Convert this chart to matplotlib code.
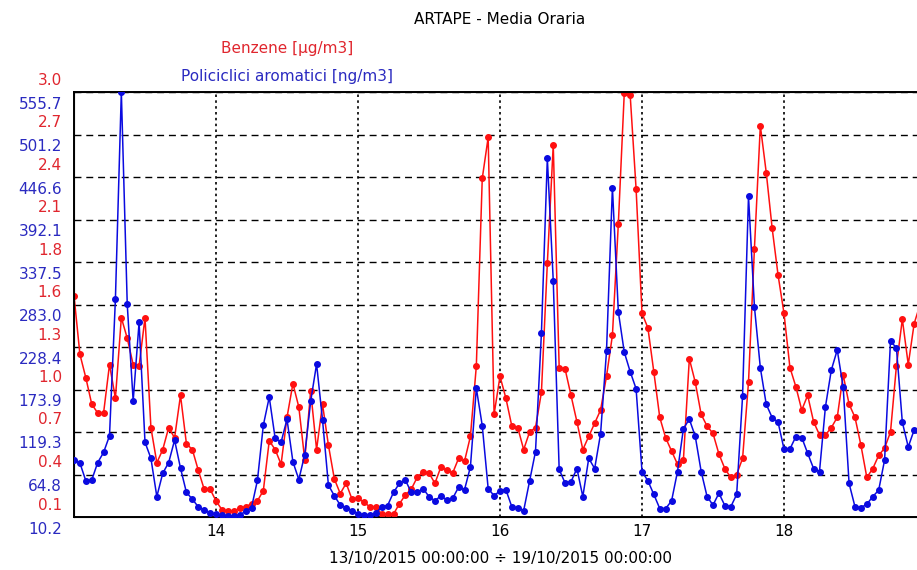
import matplotlib
matplotlib.use("Agg")
import matplotlib.pyplot as plt
import numpy as np
import pandas as pd

# media oraria 13/10/2015 00:00 -> 18/10/2015 23:00
ore = pd.date_range("2015-10-13 00:00", periods=144, freq="h")

benzene = [
    1.61, 1.21, 1.05, 0.87, 0.81, 0.81, 1.14, 0.91, 1.46, 1.32, 1.14, 1.13,
    1.46, 0.71, 0.47, 0.56, 0.71, 0.64, 0.93, 0.60, 0.56, 0.42, 0.29, 0.29,
    0.21, 0.15, 0.14, 0.14, 0.16, 0.17, 0.19, 0.21, 0.28, 0.62, 0.56, 0.46,
    0.78, 1.01, 0.85, 0.49, 0.96, 0.56, 0.87, 0.59, 0.36, 0.26, 0.33, 0.22,
    0.23, 0.20, 0.17, 0.17, 0.12, 0.12, 0.12, 0.19, 0.25, 0.29, 0.37, 0.41,
    0.40, 0.33, 0.44, 0.42, 0.40, 0.50, 0.48, 0.65, 1.13, 2.41, 2.69, 0.80,
    1.06, 0.91, 0.72, 0.71, 0.56, 0.68, 0.71, 0.95, 1.83, 2.64, 1.12, 1.11,
    0.93, 0.75, 0.56, 0.65, 0.74, 0.83, 1.06, 1.34, 2.10, 2.99, 2.98, 2.34,
    1.49, 1.39, 1.09, 0.78, 0.64, 0.55, 0.46, 0.49, 1.18, 1.02, 0.80, 0.72,
    0.67, 0.53, 0.43, 0.37, 0.39, 0.50, 1.02, 1.93, 2.77, 2.45, 2.07, 1.75,
    1.49, 1.12, 0.99, 0.83, 0.93, 0.75, 0.66, 0.66, 0.71, 0.78, 1.07, 0.87,
    0.78, 0.59, 0.37, 0.43, 0.52, 0.57, 0.68, 1.13, 1.45, 1.14, 1.42, 1.55,
]

ipa = [
    83.3, 79.5, 56.6, 57.7, 80.0, 93.1, 114.4, 290.0, 555.7, 283.0, 159.1, 260.0,
    106.2, 85.5, 36.4, 66.4, 80.0, 108.9, 72.9, 41.8, 33.1, 23.3, 18.9, 15.7,
    13.5, 12.9, 11.8, 11.8, 12.9, 17.3, 22.2, 57.1, 128.0, 164.0, 111.1, 106.2,
    135.7, 81.1, 58.2, 90.4, 158.6, 206.6, 135.1, 51.1, 37.5, 25.5, 22.2, 18.4,
    14.6, 12.9, 12.9, 15.1, 23.3, 24.9, 41.8, 53.3, 57.7, 41.8, 41.8, 46.7,
    36.4, 30.9, 37.5, 32.0, 34.2, 48.4, 45.1, 74.6, 175.5, 127.5, 46.7, 37.5,
    44.0, 45.1, 23.3, 21.7, 18.4, 56.6, 94.2, 245.9, 470.6, 313.5, 71.3, 53.8,
    55.5, 72.4, 36.4, 85.5, 72.4, 117.1, 222.9, 433.0, 273.7, 221.9, 196.8, 174.9,
    68.6, 56.6, 39.1, 21.1, 21.1, 30.9, 68.6, 123.7, 135.7, 113.8, 68.6, 36.4,
    25.5, 40.7, 24.9, 23.3, 39.1, 165.7, 422.0, 280.2, 201.7, 154.8, 137.8, 131.8,
    97.5, 97.5, 113.3, 112.2, 92.0, 72.4, 68.6, 151.5, 198.9, 224.6, 177.1, 53.3,
    23.3, 22.2, 26.6, 36.4, 44.6, 83.3, 236.0, 227.3, 131.8, 100.2, 122.0, 113.8,
]

benzene_lim = (0.1, 3.0)
ipa_lim = (10.2, 555.7)
etichette_benzene = ["0.1", "0.4", "0.7", "1.0", "1.3", "1.6",
                     "1.8", "2.1", "2.4", "2.7", "3.0"]
etichette_ipa = ["10.2", "64.8", "119.3", "173.9", "228.4", "283.0",
                 "337.5", "392.1", "446.6", "501.2", "555.7"]
giorni = pd.date_range("2015-10-14", periods=5, freq="D")

ROSSO = "#ff1010"
BLU = "#0a0ae0"
ROSSO_TXT = "#e0262e"
BLU_TXT = "#2a2ac0"

plt.rcParams["font.family"] = ["DejaVu Sans"]

fig = plt.figure(figsize=(9.17, 5.70), dpi=100)
# asse largo fino al 19/10, il bordo destro esce dall'immagine
ax = fig.add_axes([74 / 917, 53 / 570, 852 / 917, 425 / 570])
ax.set_xlim(pd.Timestamp("2015-10-13"), pd.Timestamp("2015-10-19"))
ax.set_ylim(*benzene_lim)

livelli_b = np.linspace(benzene_lim[0], benzene_lim[1], 11)
livelli_i = np.linspace(ipa_lim[0], ipa_lim[1], 11)

ax.set_yticks(livelli_b)
ax.set_xticks(giorni)
ax.set_xticklabels([d.strftime("%d").lstrip("0") for d in giorni])
ax.tick_params(axis="y", length=0, labelleft=False)
ax.tick_params(axis="x", length=0, labelsize=11, pad=5)
ax.yaxis.grid(True, linestyle=(0, (5, 3.5)), color="black", linewidth=1)
ax.xaxis.grid(True, linestyle=(0, (1.5, 2)), color="black", linewidth=1.2)
for s in ax.spines.values():
    s.set_linewidth(1.4)

ax.plot(ore, benzene, color=ROSSO, linewidth=1.1, marker="o",
        markersize=4, zorder=3)

ax2 = ax.twinx()
ax2.set_ylim(*ipa_lim)
ax2.set_yticks([])
ax2.plot(ore, ipa, color=BLU, linewidth=1.1, marker="o",
         markersize=4, zorder=3)

# etichette asse y: benzene sopra la griglia, IPA sotto
for v, t in zip(livelli_b, etichette_benzene):
    ax.annotate(t, xy=(0, v), xycoords=("axes fraction", "data"),
                xytext=(-12, 12), textcoords="offset pixels",
                ha="right", va="center", fontsize=11, color=ROSSO_TXT,
                annotation_clip=False)
for v, t in zip(livelli_i, etichette_ipa):
    ax2.annotate(t, xy=(0, v), xycoords=("axes fraction", "data"),
                 xytext=(-12, -12), textcoords="offset pixels",
                 ha="right", va="center", fontsize=11, color=BLU_TXT,
                 annotation_clip=False)

fig.text(500 / 917, 1 - 20 / 570, "ARTAPE - Media Oraria",
         ha="center", va="center", fontsize=11, color="black")
fig.text(287 / 917, 1 - 48 / 570, "Benzene [µg/m3]",
         ha="center", va="center", fontsize=11, color=ROSSO_TXT)
fig.text(287 / 917, 1 - 77 / 570, "Policiclici aromatici [ng/m3]",
         ha="center", va="center", fontsize=11, color=BLU_TXT)
fig.text(501 / 917, 1 - 558 / 570,
         "13/10/2015 00:00:00 ÷ 19/10/2015 00:00:00",
         ha="center", va="center", fontsize=11, color="black")

fig.savefig("out.png", dpi=100, facecolor="white")
